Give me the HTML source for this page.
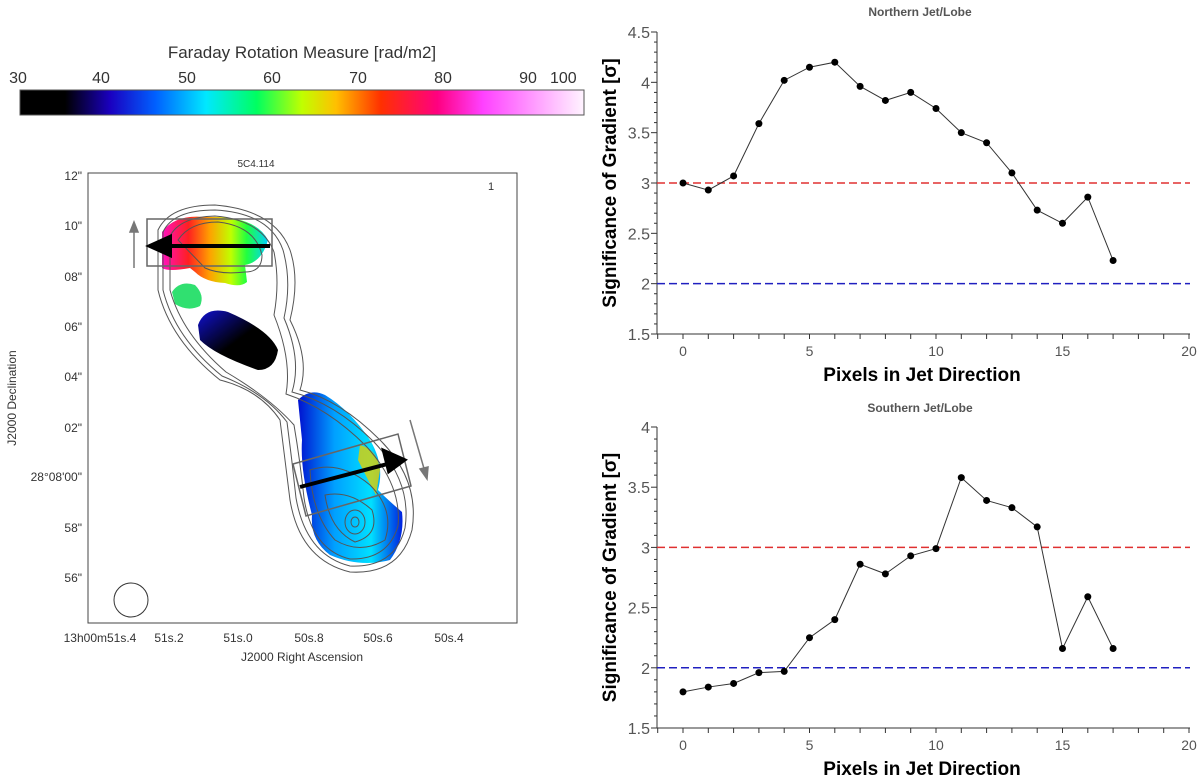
<!DOCTYPE html>
<html><head><meta charset="utf-8"><style>
body{margin:0;background:#fff;width:1200px;height:782px;overflow:hidden;font-family:"Liberation Sans",sans-serif}
svg{position:absolute;left:0;top:0}
</style></head><body>
<svg width="1200" height="782">
<defs>
<linearGradient id="cb" x1="0" x2="1">
<stop offset="0" stop-color="#000"/><stop offset="0.08" stop-color="#000"/><stop offset="0.16" stop-color="#1a00c0"/><stop offset="0.24" stop-color="#0060ff"/><stop offset="0.33" stop-color="#00e8ff"/><stop offset="0.42" stop-color="#00ff60"/><stop offset="0.5" stop-color="#c0ff00"/><stop offset="0.56" stop-color="#ffc000"/><stop offset="0.64" stop-color="#ff3000"/><stop offset="0.74" stop-color="#ff0080"/><stop offset="0.82" stop-color="#ff40ff"/><stop offset="1" stop-color="#fff4ff"/>
</linearGradient>
<linearGradient id="nb" x1="0" x2="1"><stop offset="0" stop-color="#ff10c0"/><stop offset="0.25" stop-color="#ff2020"/><stop offset="0.45" stop-color="#ffa000"/><stop offset="0.65" stop-color="#c0ff00"/><stop offset="0.8" stop-color="#20ff40"/><stop offset="1" stop-color="#00d0ff"/></linearGradient>
<linearGradient id="mb" x1="0" x2="1" y1="0" y2="1"><stop offset="0" stop-color="#1010d0"/><stop offset="0.5" stop-color="#000"/><stop offset="1" stop-color="#000"/></linearGradient>
<linearGradient id="sb" x1="0" x2="1"><stop offset="0" stop-color="#0010d0"/><stop offset="0.35" stop-color="#00a0ff"/><stop offset="0.7" stop-color="#00e0ff"/><stop offset="1" stop-color="#0020e0"/></linearGradient>
</defs>
<text x="302" y="58" font-size="17" text-anchor="middle" fill="#333">Faraday Rotation Measure [rad/m2]</text>
<g font-size="16" fill="#333" text-anchor="middle">
<text x="18" y="83">30</text><text x="101" y="83">40</text><text x="187" y="83">50</text><text x="272" y="83">60</text><text x="358" y="83">70</text><text x="443" y="83">80</text><text x="528" y="83">90</text><text x="550" y="83" text-anchor="start">100</text></g>
<rect x="20" y="90" width="564" height="25" fill="url(#cb)" stroke="#555"/>
<text x="256" y="167" font-size="10" text-anchor="middle" fill="#333">5C4.114</text>
<rect x="88" y="173" width="429" height="450" fill="none" stroke="#444"/>
<g>
<path d="M162,232 Q175,214 205,217 Q255,215 268,240 Q262,262 245,265 L247,282 Q240,288 225,283 Q205,282 195,272 L190,268 Q168,272 162,268 Z" fill="url(#nb)"/>
<path d="M172,292 Q180,280 195,285 Q205,295 200,306 Q188,312 175,304 Z" fill="#30e070"/>
<path d="M198,325 Q205,306 228,312 Q270,330 278,350 Q275,370 258,370 Q215,355 200,340 Z" fill="url(#mb)"/>
<path d="M298,400 Q310,388 325,395 Q350,410 370,440 Q385,465 378,490 Q388,500 402,512 Q405,540 390,560 Q360,568 330,555 Q310,540 312,515 Q300,470 302,440 Z" fill="url(#sb)"/>
<path d="M360,445 Q378,450 380,470 L376,495 Q368,480 358,460 Z" fill="#e0d000" opacity="0.8"/>
</g>
<g fill="none" stroke="#555" stroke-width="1">
<path d="M158,230 Q170,205 215,205 Q275,210 290,250 Q300,280 290,320 Q310,360 300,390 Q340,400 380,440 Q420,480 412,530 Q400,575 350,572 Q300,560 290,500 Q285,460 280,420 Q260,390 220,380 Q170,340 158,290 Z"/>
<path d="M163,232 Q173,210 215,210 Q270,213 283,250 Q292,282 284,318 Q302,360 292,392 Q335,403 374,442 Q412,482 405,528 Q395,568 350,566 Q306,555 296,498 Q292,460 287,422 Q265,393 222,376 Q175,338 163,290 Z"/>
<path d="M170,236 Q180,217 215,216 Q262,220 274,252 Q280,282 274,315 Q292,360 286,394 Q328,408 366,446 Q402,485 398,526 Q388,560 350,559 Q312,550 304,498 Q300,460 294,425 Q270,398 226,372 Q182,334 170,290 Z"/>
<path d="M178,240 Q190,222 218,222 Q255,226 262,255 Q262,272 245,272 Q220,275 205,268 Z"/>
<path d="M310,470 Q340,460 370,485 Q395,510 385,540 Q360,555 335,540 Q312,515 310,470 Z"/>
<path d="M325,495 Q350,490 372,510 Q380,535 355,542 Q330,530 325,495 Z"/>
<ellipse cx="355" cy="522" rx="10" ry="12"/><ellipse cx="355" cy="522" rx="4" ry="5"/>
</g>
<circle cx="131" cy="600" r="17" fill="none" stroke="#333"/>
<g fill="none" stroke="#666" stroke-width="1.5">
<rect x="147" y="219" width="125" height="47"/>
<polygon points="293,464 398,434 411,486 306,516"/>
</g>
<g stroke="#000" stroke-width="4">
<line x1="270" y1="246" x2="160" y2="246"/><polygon points="150,246 170,237 170,255" fill="#000"/>
<line x1="300" y1="487" x2="395" y2="462"/><polygon points="404,460 384,451 389,471" fill="#000"/>
</g>
<g stroke="#777" stroke-width="1.5" fill="#777">
<line x1="134" y1="268" x2="134" y2="228"/><polygon points="134,222 130,232 138,232"/>
<line x1="410" y1="420" x2="425" y2="472"/><polygon points="427,479 420,469 428,467"/>
</g>
<g font-size="12" fill="#333" text-anchor="end">
<text x="82" y="180">12"</text><text x="82" y="230">10"</text><text x="82" y="281">08"</text><text x="82" y="331">06"</text><text x="82" y="381">04"</text><text x="82" y="432">02"</text><text x="82" y="481">28°08'00"</text><text x="82" y="532">58"</text><text x="82" y="582">56"</text></g>
<g font-size="12" fill="#333" text-anchor="middle">
<text x="100" y="642">13h00m51s.4</text><text x="169" y="642">51s.2</text><text x="238" y="642">51s.0</text><text x="309" y="642">50s.8</text><text x="378" y="642">50s.6</text><text x="449" y="642">50s.4</text></g>
<text x="302" y="661" font-size="12" text-anchor="middle" fill="#333">J2000 Right Ascension</text>
<text transform="translate(16,398) rotate(-90)" font-size="12" text-anchor="middle" fill="#333">J2000 Declination</text>
<text x="488" y="190" font-size="11" fill="#333">1</text>
<g id="charts"></g>
</svg>
<script>
const xs = [0,1,2,3,4,5,6,7,8,9,10,11,12,13,14,15,16,17];
const northVals = [3.0,2.93,3.07,3.59,4.02,4.15,4.2,3.96,3.82,3.9,3.74,3.5,3.4,3.1,2.73,2.6,2.86,2.23];
const southVals = [1.8,1.84,1.87,1.96,1.97,2.25,2.4,2.86,2.78,2.93,2.99,3.58,3.39,3.33,3.17,2.16,2.59,2.16];
const xTicks = [0,5,10,15,20];
const northYTicks = [1.5,2,2.5,3,3.5,4,4.5];
const southYTicks = [1.5,2,2.5,3,3.5,4];
const thresholds = [3,2];
const NS="http://www.w3.org/2000/svg";
const root=document.getElementById('charts');
function mk(t,a,p){const e=document.createElementNS(NS,t);for(const k in a)e.setAttribute(k,a[k]);(p||root).appendChild(e);return e;}
function chart(title,vals,yTicks,top,bottom,titleY,name){
  const g=mk('g',{});
  
  
  const yMin=yTicks[0],yMax=yTicks[yTicks.length-1];
  const X=v=>683+(v-0)*25.3, Y=v=>bottom-(v-yMin)/(yMax-yMin)*(bottom-top);
  const t=mk('text',{x:920,y:titleY,'font-size':12,'font-weight':'bold','text-anchor':'middle',fill:'#555'},g);t.textContent=title;
  
  
  mk('line',{x1:657,y1:top,x2:657,y2:bottom,stroke:'#333'},g);
  mk('line',{x1:657,y1:bottom,x2:1190,y2:bottom,stroke:'#333'},g);
  for(let v=-1;v<=20;v++){mk('line',{x1:X(v),y1:bottom,x2:X(v),y2:bottom+5,stroke:'#333'},g);}
  for(let v=Math.round(yMin*10);v<=Math.round(yMax*10);v++){const big=v%5==0;mk('line',{x1:657,y1:Y(v/10),x2:657-(big?6:3),y2:Y(v/10),stroke:'#333'},g);}
  xTicks.forEach(v=>{const e=mk('text',{x:X(v),y:bottom+22,'font-size':14,'text-anchor':'middle',fill:'#555'},g);e.textContent=v;});
  yTicks.forEach(v=>{const e=mk('text',{x:650,y:Y(v)+6,'font-size':16,'text-anchor':'end',fill:'#555'},g);e.textContent=v;});
  const xl=mk('text',{x:922,y:bottom+47,'font-size':19,'font-weight':'bold','text-anchor':'middle',fill:'#000'},g);xl.textContent='Pixels in Jet Direction';
  
  
  const yl=mk('text',{transform:`translate(616,${(top+bottom)/2}) rotate(-90)`,'font-size':19,'font-weight':'bold','text-anchor':'middle',fill:'#000'},g);yl.textContent='Significance of Gradient [σ]';
  
  
  ['#e03030','#2020c0'].forEach((c,i)=>{const l=mk('line',{x1:657,x2:1190,y1:Y(thresholds[i]),y2:Y(thresholds[i]),stroke:c,'stroke-width':1.5,'stroke-dasharray':'8,4'},g);
    
    });
  const pl=mk('polyline',{points:vals.map((v,i)=>X(xs[i])+','+Y(v)).join(' '),fill:'none',stroke:'#333','stroke-width':1},g);
  
  
  vals.forEach((v,i)=>{const c=mk('circle',{cx:X(xs[i]),cy:Y(v),r:3.5,fill:'#000'},g);
    
    });
}
chart('Northern Jet/Lobe',northVals,northYTicks,32,334,16,'northern-chart');
chart('Southern Jet/Lobe',southVals,southYTicks,427,728,412,'southern-chart');
</script>
</body></html>
